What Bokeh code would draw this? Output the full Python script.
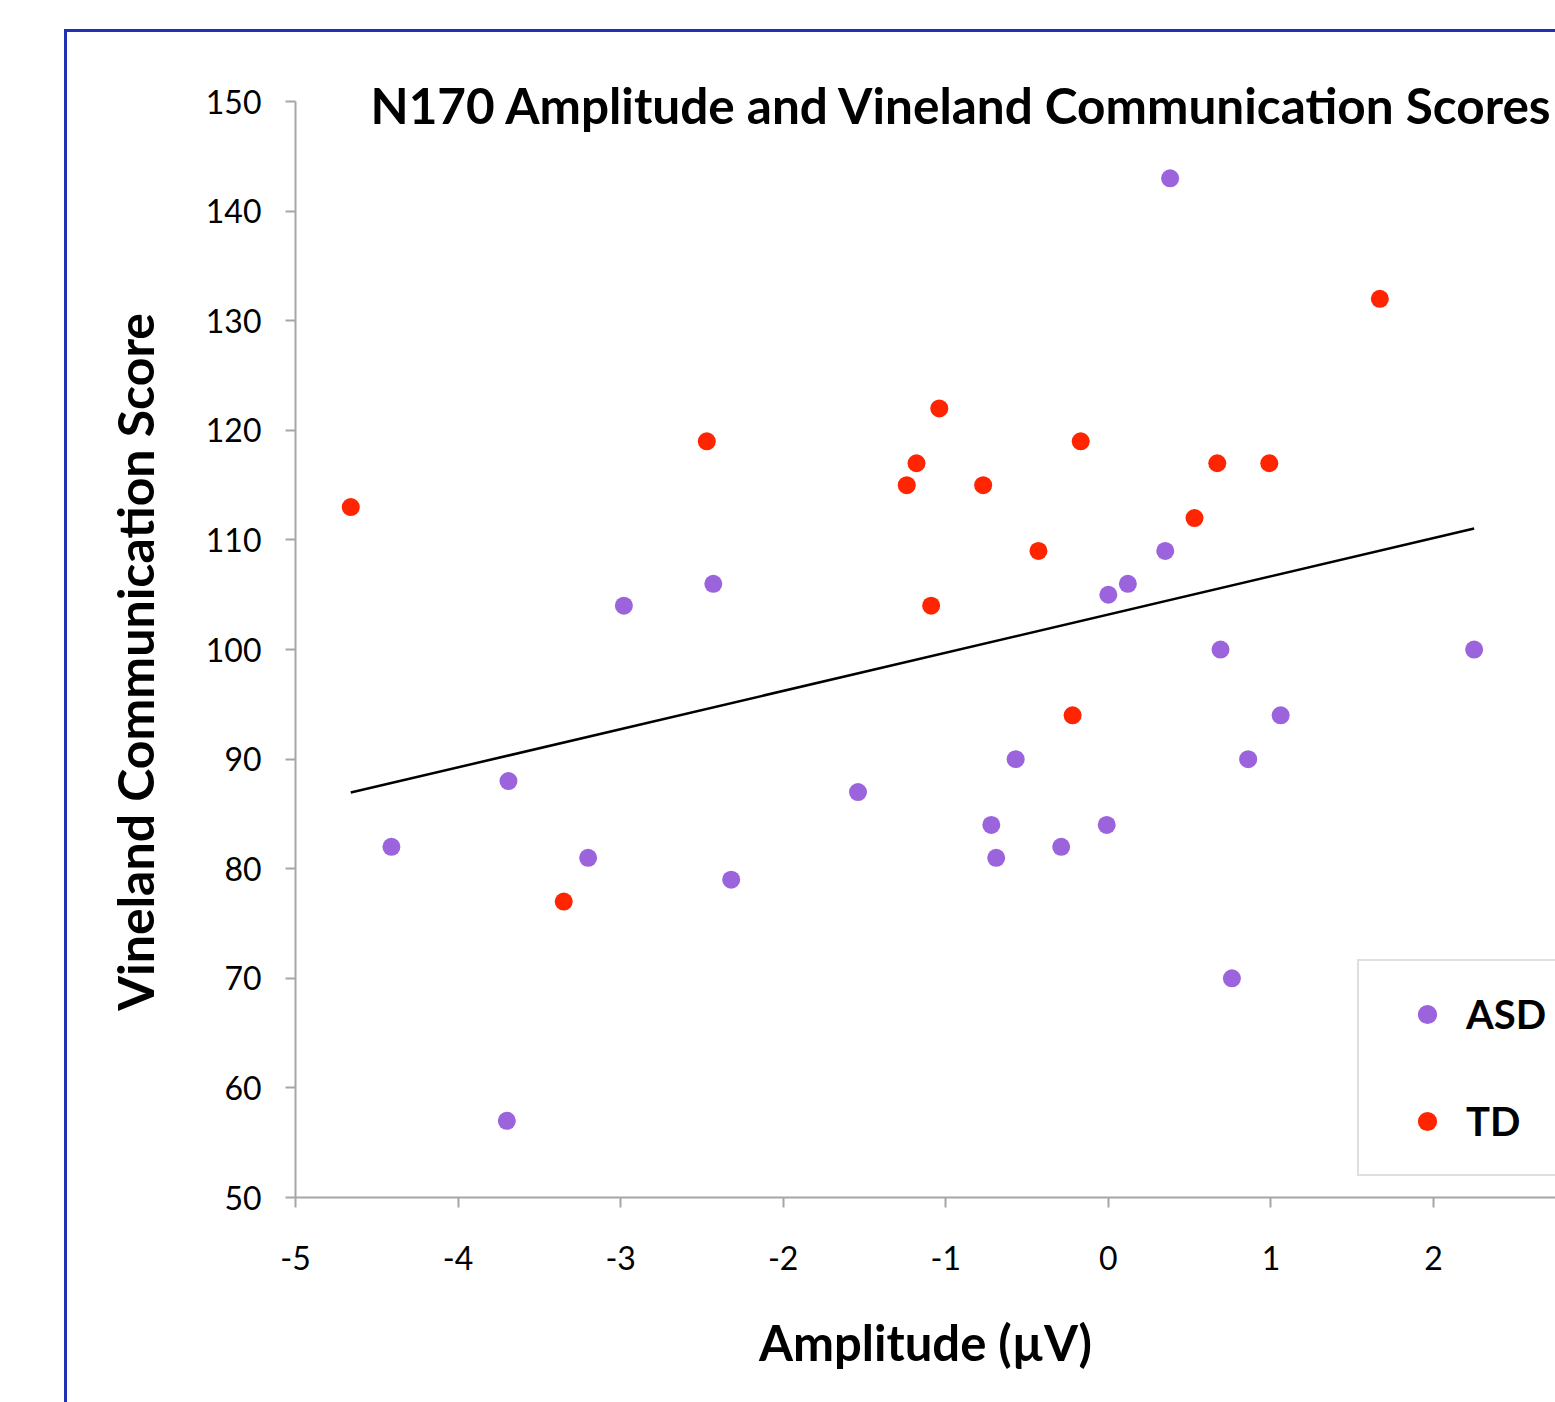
from bokeh.plotting import figure
from bokeh.models import Range1d, FixedTicker, Legend, LegendItem, Label, ColumnDataSource
from bokeh.embed import file_html
from bokeh.resources import INLINE

# ---- data ----
asd_x = [0.38, 0.35, 0.00, 0.12, -2.43, -2.98, 0.69, 2.25, 1.06, 0.86, -0.57,
         -3.69, -1.54, -0.72, -0.01, -4.41, -0.29, -3.20, -0.69, -2.32, 0.76, -3.70]
asd_y = [143, 109, 105, 106, 106, 104, 100, 100, 94, 90, 90,
         88, 87, 84, 84, 82, 82, 81, 81, 79, 70, 57]

td_x = [-4.66, -3.35, -2.47, -1.24, -1.18, -1.04, -1.09, -0.77, -0.43, -0.22,
        -0.17, 0.53, 0.67, 0.99, 1.67]
td_y = [113, 77, 119, 115, 117, 122, 104, 115, 109, 94,
        119, 112, 117, 117, 132]

trend_x = [-4.66, 2.25]
trend_y = [86.95, 111.05]

x_ticks = [-5, -4, -3, -2, -1, 0, 1, 2, 3]
x_tick_labels = ["-5", "-4", "-3", "-2", "-1", "0", "1", "2", "3"]
y_ticks = [50, 60, 70, 80, 90, 100, 110, 120, 130, 140, 150]
y_tick_labels = ["50", "60", "70", "80", "90", "100", "110", "120", "130", "140", "150"]
y_axis_min, y_axis_max = 50, 150

title_text = "N170 Amplitude and Vineland Communication Scores"
x_title = "Amplitude (\u00b5V)"
y_title = "Vineland Communication Score"
series_names = ["ASD", "TD"]

ASD_COLOR = "#9B63DC"
TD_COLOR = "#FF2500"
AXIS_GRAY = "#A6A6A6"
BORDER_BLUE = "#1F32B4"
FONT = "Lato"

W, H = 1555, 1402
FRAME_L, FRAME_B = 295, 1197
PX_PER_X = 162.57
PX_PER_Y = 10.96
Y_HEADROOM = 2.2           # extra room above the axis so the title is not clipped
x_end = -5 + (W - FRAME_L) / PX_PER_X
y_end = y_axis_max + Y_HEADROOM
frame_top = round(FRAME_B - (y_end - y_axis_min) * PX_PER_Y)

p = figure(width=W, height=H, output_backend="svg", toolbar_location=None,
           x_range=Range1d(-5, x_end), y_range=Range1d(y_axis_min, y_end),
           min_border_left=FRAME_L, min_border_right=0,
           min_border_top=frame_top, min_border_bottom=H - FRAME_B)
p.outline_line_color = None
p.xgrid.visible = False
p.ygrid.visible = False
p.background_fill_color = "white"
p.border_fill_color = None

# outer blue chart border (only its left/top edges fall inside the crop)
p.styles = {
    "background-color": "white",
    "background-image": f"linear-gradient({BORDER_BLUE}, {BORDER_BLUE}), linear-gradient({BORDER_BLUE}, {BORDER_BLUE})",
    "background-size": "3px 3000px, 3000px 3px",
    "background-position": "64px 29px, 64px 29px",
    "background-repeat": "no-repeat",
}

for ax, ticks, labels in ((p.xaxis[0], x_ticks, x_tick_labels), (p.yaxis[0], y_ticks, y_tick_labels)):
    ax.ticker = FixedTicker(ticks=ticks)
    ax.major_label_overrides = {t: l for t, l in zip(ticks, labels)}
    ax.axis_line_color = AXIS_GRAY
    ax.axis_line_width = 2
    ax.major_tick_line_color = AXIS_GRAY
    ax.major_tick_line_width = 2
    ax.major_tick_in = 0
    ax.major_tick_out = 10
    ax.minor_tick_line_color = None
    ax.major_label_text_font = FONT
    ax.major_label_text_font_size = "32px"
    ax.major_label_text_color = "black"
    ax.axis_label_text_font = FONT
    ax.axis_label_text_font_style = "bold"
    ax.axis_label_text_color = "black"

p.yaxis[0].bounds = (y_axis_min, y_axis_max)
p.xaxis[0].axis_label = x_title
# trailing no-break spaces nudge the centred label down to sit mid-axis (frame has headroom)
p.yaxis[0].axis_label = y_title + "\u00a0" * 4
p.xaxis[0].axis_label_text_font_size = "49px"
p.yaxis[0].axis_label_text_font_size = "50px"
p.xaxis[0].major_label_standoff = 38
p.yaxis[0].major_label_standoff = 24
p.xaxis[0].axis_label_standoff = 40
p.yaxis[0].axis_label_standoff = 38

p.line(trend_x, trend_y, line_color="black", line_width=2.5)

src_asd = ColumnDataSource(dict(x=asd_x, y=asd_y))
src_td = ColumnDataSource(dict(x=td_x, y=td_y))
r_asd = p.scatter("x", "y", source=src_asd, size=18, fill_color=ASD_COLOR, line_color=None)
r_td = p.scatter("x", "y", source=src_td, size=18, fill_color=TD_COLOR, line_color=None)

legend = Legend(items=[LegendItem(label=series_names[0], renderers=[r_asd]),
                       LegendItem(label=series_names[1], renderers=[r_td])],
                location=(1062, 21), margin=0, padding=29, spacing=59,
                glyph_width=78, glyph_height=48, label_height=48, label_standoff=0,
                label_text_font=FONT, label_text_font_style="bold",
                label_text_font_size="40px", label_text_color="black",
                border_line_color="#BFBFBF", border_line_width=2,
                background_fill_color="white", background_fill_alpha=1)
p.add_layout(legend)

p.add_layout(Label(x=370, y=104, x_units="canvas", y_units="canvas", text=title_text,
                   text_font=FONT, text_font_style="bold", text_font_size="49.5px",
                   text_color="black", text_baseline="alphabetic", text_align="left"))

open("out.html", "w").write(file_html(p, INLINE))
